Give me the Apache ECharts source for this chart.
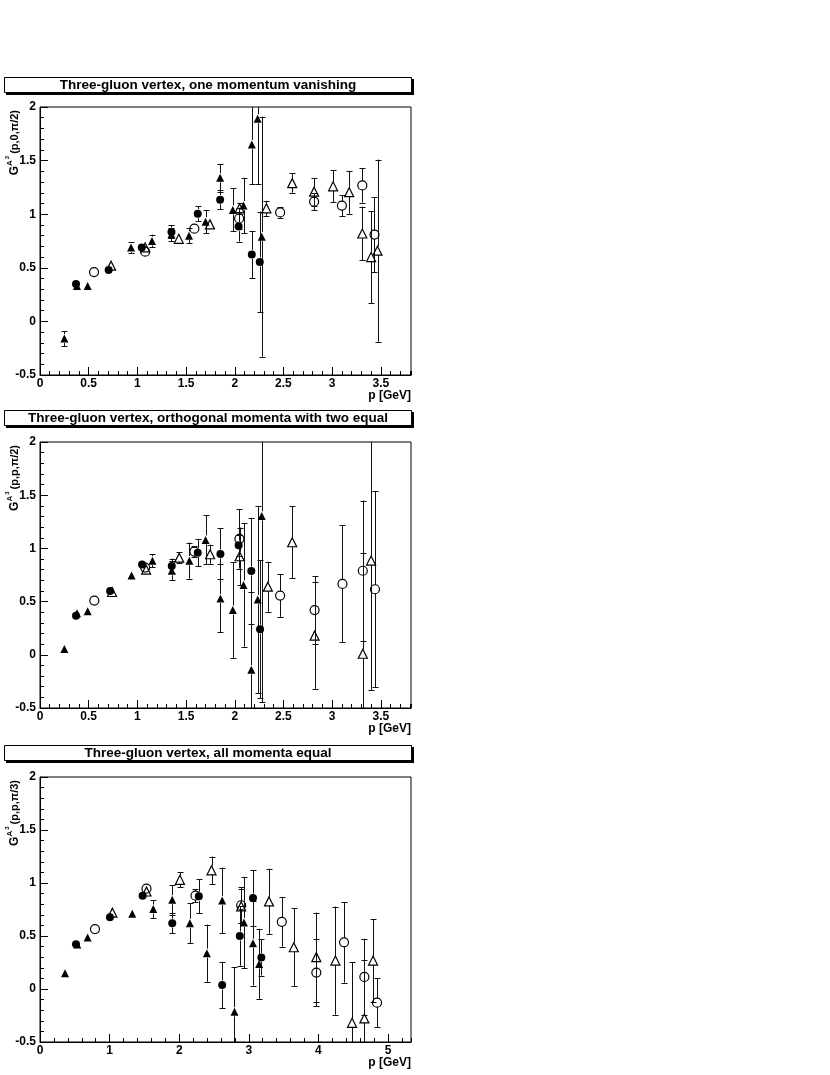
<!DOCTYPE html>
<html>
<head>
<meta charset="utf-8">
<title>Three-gluon vertex</title>
<script src="https://cdn.jsdelivr.net/npm/echarts@6/dist/echarts.min.js"></script>
<style>
  html, body { margin: 0; padding: 0; background: #fff; }
  #chart { width: 830px; height: 1075px; }
</style>
</head>
<body>
<div id="chart"></div>
<script>
// each point: [p (GeV), G, error]
// panel 1 - one momentum vanishing
const triFilled1 = [
  [0.25, -0.16, 0.07], [0.38, 0.33, 0.02], [0.49, 0.33, 0.02], [0.935, 0.69, 0.05],
  [1.15, 0.75, 0.06], [1.35, 0.81, 0.06], [1.53, 0.80, 0.07], [1.70, 0.93, 0.11],
  [1.85, 1.34, 0.13], [1.98, 1.04, 0.20], [2.09, 1.08, 0.26], [2.175, 1.65, 0.37],
  [2.235, 1.89, 0.61], [2.277, 0.79, 1.12]
];
const dotFilled1 = [
  [0.37, 0.35, 0.02], [0.705, 0.48, 0.02], [1.045, 0.69, 0.02], [1.35, 0.835, 0.06],
  [1.62, 1.005, 0.07], [1.85, 1.135, 0.09], [2.04, 0.885, 0.14], [2.175, 0.625, 0.22],
  [2.257, 0.555, 0.47]
];
const triOpen1 = [
  [0.73, 0.52, 0.02], [1.08, 0.69, 0.02], [1.425, 0.77, 0.02], [1.745, 0.905, 0.03],
  [2.05, 1.055, 0.05], [2.325, 1.055, 0.07], [2.59, 1.29, 0.09], [2.815, 1.21, 0.13],
  [3.01, 1.26, 0.15], [3.175, 1.205, 0.20], [3.31, 0.82, 0.25], [3.40, 0.60, 0.43],
  [3.466, 0.66, 0.85]
];
const ringOpen1 = [
  [0.555, 0.46, 0.02], [1.08, 0.65, 0.02], [1.585, 0.865, 0.03], [2.045, 0.96, 0.10],
  [2.466, 1.017, 0.05], [2.815, 1.117, 0.08], [3.10, 1.08, 0.10], [3.31, 1.268, 0.16],
  [3.435, 0.81, 0.35]
];

// panel 2 - orthogonal momenta with two equal
const triFilled2 = [
  [0.25, 0.055, 0.01], [0.38, 0.39, 0.02], [0.49, 0.41, 0.02], [0.94, 0.745, 0.02],
  [1.155, 0.885, 0.06], [1.353, 0.79, 0.09], [1.534, 0.885, 0.17], [1.70, 1.08, 0.23],
  [1.853, 0.53, 0.32], [1.98, 0.42, 0.45], [2.09, 0.657, 0.58], [2.17, -0.14, 0.73],
  [2.236, 0.52, 0.88], [2.277, 1.305, 1.75]
];
const dotFilled2 = [
  [0.37, 0.366, 0.02], [0.72, 0.60, 0.02], [1.048, 0.848, 0.02], [1.353, 0.835, 0.07],
  [1.62, 0.96, 0.13], [1.853, 0.948, 0.24], [2.04, 1.03, 0.10], [2.17, 0.788, 0.50],
  [2.26, 0.24, 0.65]
];
const triOpen2 = [
  [0.74, 0.59, 0.02], [1.09, 0.80, 0.02], [1.43, 0.913, 0.05], [1.747, 0.945, 0.09],
  [2.05, 0.926, 0.27], [2.34, 0.64, 0.235], [2.59, 1.058, 0.34], [2.82, 0.18, 0.50],
  [3.315, 0.01, 0.95], [3.40, 0.886, 1.22]
];
const ringOpen2 = [
  [0.558, 0.51, 0.02], [1.08, 0.82, 0.02], [1.585, 0.97, 0.05], [2.048, 1.09, 0.28],
  [2.466, 0.557, 0.20], [2.82, 0.42, 0.32], [3.106, 0.666, 0.55], [3.315, 0.79, 0.66],
  [3.44, 0.616, 0.92]
];

// panel 3 - all momenta equal
const triFilled3 = [
  [0.36, 0.148, 0.01], [0.536, 0.42, 0.02], [0.684, 0.486, 0.02], [1.325, 0.71, 0.04],
  [1.627, 0.754, 0.085], [1.90, 0.842, 0.14], [2.153, 0.62, 0.19], [2.397, 0.338, 0.27],
  [2.617, 0.836, 0.31], [2.794, -0.215, 0.42], [2.93, 0.628, 0.43], [3.06, 0.432, 0.40],
  [3.148, 0.237, 0.33]
];
const dotFilled3 = [
  [0.517, 0.423, 0.02], [1.005, 0.678, 0.02], [1.474, 0.88, 0.04], [1.90, 0.62, 0.095],
  [2.282, 0.874, 0.16], [2.617, 0.038, 0.22], [2.87, 0.50, 0.28], [3.06, 0.858, 0.26],
  [3.18, 0.297, 0.17]
];
const triOpen3 = [
  [1.04, 0.72, 0.02], [1.53, 0.92, 0.02], [2.01, 1.03, 0.07], [2.464, 1.12, 0.13],
  [2.89, 0.78, 0.16], [3.29, 0.826, 0.31], [3.646, 0.394, 0.37], [3.97, 0.30, 0.42],
  [4.244, 0.268, 0.51], [4.483, -0.319, 0.57], [4.66, -0.278, 0.55], [4.785, 0.268, 0.39]
];
const ringOpen3 = [
  [0.79, 0.565, 0.02], [1.53, 0.946, 0.02], [2.234, 0.88, 0.06], [2.89, 0.79, 0.17],
  [3.474, 0.634, 0.235], [3.97, 0.155, 0.32], [4.368, 0.44, 0.38], [4.66, 0.114, 0.36],
  [4.842, -0.129, 0.23]
];

const titles = [
  'Three-gluon vertex, one momentum vanishing',
  'Three-gluon vertex, orthogonal momenta with two equal',
  'Three-gluon vertex, all momenta equal'
];
const yArgs = ['(p,0,\u03c0/2)', '(p,p,\u03c0/2)', '(p,p,\u03c0/3)'];
const xTitle = 'p [GeV]';

const Y_MIN = -0.5, Y_MAX = 2;
const FONT = '"Liberation Sans", Arial, Helvetica, sans-serif';

// layout only
const panels = [
  { boxTop: 77,  top: 107, height: 268, xMax: 3.81, xMajor: 0.5, xMinor: 0.1,
    sets: [triFilled1, dotFilled1, triOpen1, ringOpen1] },
  { boxTop: 410, top: 442, height: 266, xMax: 3.81, xMajor: 0.5, xMinor: 0.1,
    sets: [triFilled2, dotFilled2, triOpen2, ringOpen2] },
  { boxTop: 745, top: 777, height: 265, xMax: 5.33, xMajor: 1, xMinor: 0.2,
    sets: [triFilled3, dotFilled3, triOpen3, ringOpen3] }
];
const GRID_LEFT = 40, GRID_W = 371;

// marker styles, same order as sets
const markers = [
  { symbol: 'triangle', size: 8, fill: '#000' },
  { symbol: 'circle', size: 8, fill: '#000' },
  { symbol: 'triangle', size: 9, fill: 'rgba(0,0,0,0)' },
  { symbol: 'circle', size: 9, fill: 'rgba(0,0,0,0)' }
];

const chart = echarts.init(document.getElementById('chart'), null, { renderer: 'canvas' });

const grid = [], xAxis = [], yAxis = [], series = [], graphic = [];

function seg(x1, y1, x2, y2) {
  return { type: 'line', shape: { x1, y1, x2, y2 }, style: { stroke: '#111', lineWidth: 1 } };
}

// error bars, leaving a gap where the own marker sits
function errorBars(idx, data, gap) {
  return {
    type: 'custom',
    xAxisIndex: idx, yAxisIndex: idx,
    data: data,
    encode: { x: 0, y: 1 },
    silent: true,
    z: 2,
    renderItem(params, api) {
      const x = api.value(0), y = api.value(1), e = api.value(2);
      const c = api.coord([x, y]);
      const px = Math.round(c[0]) + 0.5;
      const top = api.coord([x, Math.min(y + e, Y_MAX)])[1];
      const bot = api.coord([x, Math.max(y - e, Y_MIN)])[1];
      const kids = [];
      if (c[1] - gap > top) {
        kids.push(seg(px, top, px, c[1] - gap));
        if (y + e <= Y_MAX) kids.push(seg(px - 3, Math.round(top) + 0.5, px + 3, Math.round(top) + 0.5));
      }
      if (c[1] + gap < bot) {
        kids.push(seg(px, c[1] + gap, px, bot));
        if (y - e >= Y_MIN) kids.push(seg(px - 3, Math.round(bot) + 0.5, px + 3, Math.round(bot) + 0.5));
      }
      return { type: 'group', children: kids };
    }
  };
}

panels.forEach((pn, i) => {
  grid.push({
    left: GRID_LEFT, top: pn.top, width: GRID_W, height: pn.height,
    show: true, borderColor: '#000', borderWidth: 1, backgroundColor: '#fff',
    containLabel: false, outerBoundsMode: 'none'
  });

  const tickStyle = { color: '#000', width: 1 };
  const labelStyle = { color: '#000', fontSize: 12, fontWeight: 'bold', fontFamily: FONT };
  // minor ticks
  xAxis.push({
    gridIndex: i, type: 'value', position: 'bottom', min: 0, max: pn.xMax, interval: pn.xMinor,
    axisLine: { show: true, onZero: false, lineStyle: { color: '#000' } },
    axisTick: { show: true, inside: true, length: 4, lineStyle: tickStyle },
    axisLabel: { show: false }, splitLine: { show: false }
  });
  // major ticks + labels
  xAxis.push({
    gridIndex: i, type: 'value', position: 'bottom', min: 0, max: pn.xMax, interval: pn.xMajor,
    axisLine: { show: false, onZero: false },
    axisTick: { show: true, inside: true, length: 8, lineStyle: tickStyle },
    axisLabel: Object.assign({ show: true, margin: 3, showMaxLabel: false }, labelStyle),
    splitLine: { show: false }
  });
  yAxis.push({
    gridIndex: i, type: 'value', position: 'left', min: Y_MIN, max: Y_MAX, interval: 0.1,
    axisLine: { show: true, onZero: false, lineStyle: { color: '#000' } },
    axisTick: { show: true, inside: true, length: 4, lineStyle: tickStyle },
    axisLabel: { show: false }, splitLine: { show: false }
  });
  yAxis.push({
    gridIndex: i, type: 'value', position: 'left', min: Y_MIN, max: Y_MAX, interval: 0.5,
    axisLine: { show: false, onZero: false },
    axisTick: { show: true, inside: true, length: 8, lineStyle: tickStyle },
    axisLabel: Object.assign({ show: true, margin: 4 }, labelStyle),
    splitLine: { show: false }
  });

  const ax = 2 * i + 1;
  pn.sets.forEach((set, k) => {
    const m = markers[k];
    series.push(errorBars(ax, set, 4.5));
    series.push({
      type: 'scatter', xAxisIndex: ax, yAxisIndex: ax, silent: true, z: 3,
      data: set.map(d => [d[0], d[1]]),
      symbol: m.symbol, symbolSize: m.size,
      itemStyle: { color: m.fill, borderColor: '#000', borderWidth: k >= 2 ? 1.2 : 0, opacity: 1 }
    });
  });

  // title box with shadow
  graphic.push({ type: 'rect', shape: { x: 6, y: pn.boxTop + 2, width: 408, height: 16 },
    style: { fill: '#000' }, silent: true });
  graphic.push({ type: 'rect', shape: { x: 4.5, y: pn.boxTop + 0.5, width: 407, height: 15 },
    style: { fill: '#fff', stroke: '#000', lineWidth: 1 }, silent: true });
  graphic.push({ type: 'text', x: 208, y: pn.boxTop + 8, silent: true,
    style: { text: titles[i], fill: '#000', font: 'bold 13.5px ' + FONT,
      textAlign: 'center', textVerticalAlign: 'middle' } });

  // y title, right aligned at the top of the axis
  graphic.push({ type: 'text', x: 15, y: pn.top + 3, rotation: Math.PI / 2, silent: true,
    style: {
      text: '{g|G}{a|A}{t|3}{p|' + yArgs[i] + '}',
      textAlign: 'right', textVerticalAlign: 'middle', fill: '#000',
      rich: {
        g: { fontSize: 12, fontWeight: 'bold', fontFamily: FONT, lineHeight: 22, verticalAlign: 'middle' },
        a: { fontSize: 8, fontWeight: 'bold', fontFamily: FONT, verticalAlign: 'top', padding: [2, 0, 0, 0] },
        t: { fontSize: 6, fontWeight: 'bold', fontFamily: FONT, verticalAlign: 'top', padding: [0, 2, 0, 1] },
        p: { fontSize: 11, fontWeight: 'bold', fontFamily: FONT, verticalAlign: 'middle' }
      }
    } });

  // x title
  graphic.push({ type: 'text', x: GRID_LEFT + GRID_W, y: pn.top + pn.height + 21, silent: true,
    style: { text: xTitle, fill: '#000', font: 'bold 12px ' + FONT,
      textAlign: 'right', textVerticalAlign: 'middle' } });
});

chart.setOption({
  animation: false,
  backgroundColor: '#fff',
  grid, xAxis, yAxis, series,
  graphic: { elements: graphic }
});
</script>
</body>
</html>
